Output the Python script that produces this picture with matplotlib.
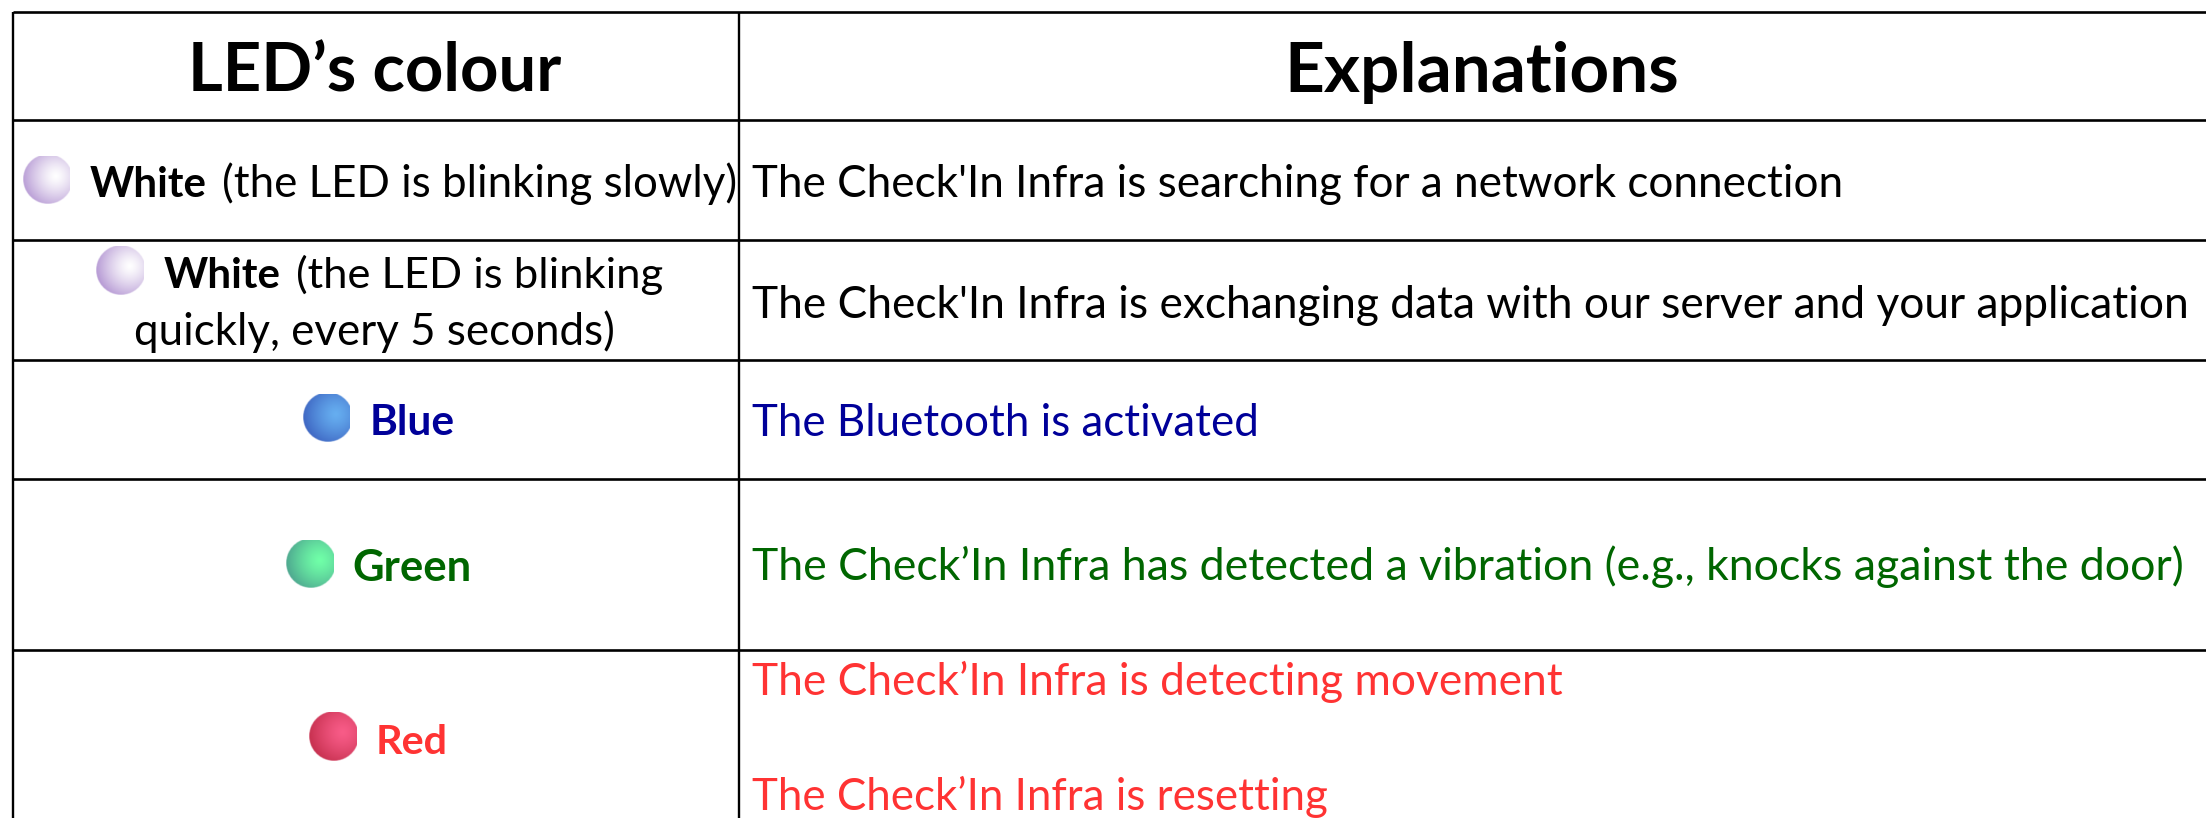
import numpy as np
import matplotlib
matplotlib.use("Agg")
import matplotlib.pyplot as plt
from matplotlib.colors import to_rgb

# Contenido de la tabla
headers = ["LED\u2019s colour", "Explanations"]
left_bold = ["White", "White", "Blue", "Green", "Red"]
left_rest = ["(the LED is blinking slowly)", "(the LED is blinking", "", "", ""]
left_second = "quickly, every 5 seconds)"
explanations = [
    "The Check'In Infra is searching for a network connection",
    "The Check'In Infra is exchanging data with our server and your application",
    "The Bluetooth is activated",
    "The Check\u2019In Infra has detected a vibration (e.g., knocks against the door)",
    "The Check\u2019In Infra is detecting movement",
    "The Check\u2019In Infra is resetting",
]
bold_colors = ["black", "black", "#000099", "#006600", "#FF3333"]
expl_colors = ["black", "black", "#000099", "#006600", "#FF3333", "#FF3333"]
led_center = ["#FFFFFF", "#FFFFFF", "#66AEF0", "#70FFA8", "#F85C88"]
led_edge = ["#B294D2", "#B294D2", "#3A5FBE", "#4CA28E", "#C42E4C"]

W, H = 2206, 818
FONT = "Lato"

fig = plt.figure(figsize=(W / 100, H / 100), dpi=100)
ax = fig.add_axes([0, 0, 1, 1])


def fit_text(x0, x1, base, s, color="black", weight="normal"):
    # ajusta el tamano para que el texto ocupe de x0 a x1
    t = ax.text(x0 - 1.5, base, s, color=color, fontweight=weight, family=FONT,
                fontsize=30, va="baseline", ha="left")
    w = t.get_window_extent(fig.canvas.get_renderer()).width
    t.set_fontsize(30 * (x1 - x0) / w)
    return t


def led(x0, x1, y0, y1, c_in, c_out):
    # bolita con degradado, recortada arriba y a la derecha como en el original
    n = 80
    xx, yy = np.meshgrid(np.linspace(x0, x1, n), np.linspace(y0, y1, n))
    cx, cy = x0 + 25, y1 - 25
    r = np.hypot(xx - cx, yy - cy)
    d = np.clip(np.hypot(xx - (x1 - 14), yy - (y0 + 20)) / 36, 0, 1)[..., None] ** 1.3
    rgb = np.array(to_rgb(c_in)) * (1 - d) + np.array(to_rgb(c_out)) * d
    alpha = np.clip(25.5 - r, 0, 1)[..., None]
    ax.imshow(np.dstack([rgb, alpha]), extent=(x0, x1, y1, y0), aspect="auto",
              interpolation="bilinear", zorder=2)


# Lineas de la tabla
row_lines = [12, 120, 240, 360, 479, 650]
for y in row_lines:
    ax.plot([13, W], [y, y], color="black", lw=1.9, solid_capstyle="butt")
for x in [13, 739]:
    ax.plot([x, x], [12, H], color="black", lw=1.7, solid_capstyle="butt")

# Cabeceras
fit_text(190, 563, 92, headers[0], weight="bold")
fit_text(1286, 1680, 92, headers[1], weight="bold")

# Columna izquierda
bold_pos = [(91, 208, 197), (165, 282, 288), (371, 456, 435), (354, 473, 581), (377, 449, 754)]
rest_pos = [(223, 736, 197), (297, 663, 288)]
led_pos = [(23, 70, 156, 204), (96, 144, 246, 295), (303, 350, 394, 442),
           (286, 334, 540, 588), (309, 357, 712, 761)]
for i in range(5):
    x0, x1, b = bold_pos[i]
    fit_text(x0, x1, b, left_bold[i], color=bold_colors[i], weight="bold")
    if left_rest[i]:
        x0, x1, b = rest_pos[i]
        fit_text(x0, x1, b, left_rest[i])
    led(*led_pos[i], led_center[i], led_edge[i])
fit_text(136, 616, 345, left_second)

# Columna derecha
expl_pos = [(753, 1840, 197), (753, 2188, 318), (753, 1258, 436),
            (753, 2181, 580), (753, 1562, 695), (753, 1328, 810)]
for s, c, (x0, x1, b) in zip(explanations, expl_colors, expl_pos):
    fit_text(x0, x1, b, s, color=c)

ax.set_xlim(0, W)
ax.set_ylim(H, 0)
ax.axis("off")
fig.savefig("out.png", dpi=100, facecolor="white")
